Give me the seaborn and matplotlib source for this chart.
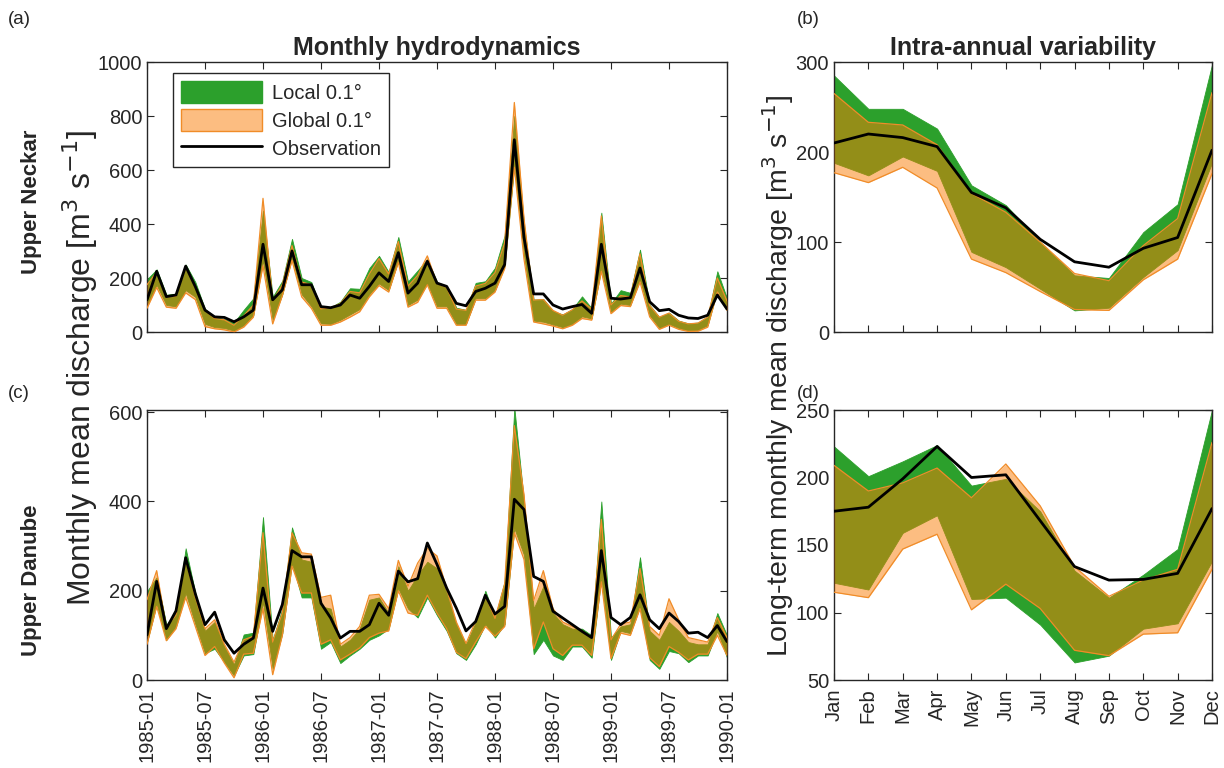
import numpy as np
import pandas as pd
import matplotlib
matplotlib.use("Agg")
import matplotlib.pyplot as plt
from matplotlib.patches import Patch
from matplotlib.lines import Line2D
import seaborn as sns

# ---------------------------------------------------------------- data
# monthly series 1985-01 ... 1990-01 (61 months)
dates = pd.date_range("1985-01-01", "1990-01-01", freq="MS")
date_ticks = ["1985-01", "1985-07", "1986-01", "1986-07", "1987-01", "1987-07",
              "1988-01", "1988-07", "1989-01", "1989-07", "1990-01"]

# Upper Neckar
neckar_obs = [119, 225, 131, 137, 244, 168, 81, 56, 54, 38, 56, 81, 325, 119, 156, 300,
              175, 175, 94, 90, 100, 137, 125, 169, 219, 187, 294, 144, 181, 262, 181,
              169, 106, 97, 150, 162, 181, 250, 712, 350, 141, 141, 100, 85, 94, 102, 69,
              325, 125, 122, 127, 237, 112, 79, 84, 62, 52, 50, 62, 137, 85]
neckar_local_hi = [195, 232, 138, 142, 250, 185, 85, 55, 48, 35, 82, 125, 450, 130, 190, 345,
                   200, 185, 88, 92, 112, 162, 160, 237, 282, 222, 352, 187, 228, 270, 185,
                   170, 90, 82, 182, 188, 238, 358, 800, 395, 120, 122, 78, 65, 85, 132, 88,
                   442, 105, 155, 145, 305, 100, 55, 72, 42, 32, 35, 58, 225, 125]
neckar_local_lo = [100, 175, 100, 95, 155, 130, 30, 18, 15, 5, 25, 62, 265, 45, 140, 275,
                   140, 95, 32, 30, 45, 65, 85, 140, 180, 155, 265, 100, 120, 180, 95,
                   95, 30, 30, 125, 125, 155, 245, 620, 285, 42, 38, 28, 18, 30, 58, 50,
                   235, 75, 105, 100, 195, 62, 15, 30, 15, 6, 8, 25, 155, 85]
neckar_global_hi = [175, 222, 130, 132, 240, 170, 80, 50, 45, 25, 60, 100, 495, 115, 175, 320,
                    185, 175, 85, 90, 105, 150, 145, 215, 272, 215, 335, 170, 210, 282, 180,
                    165, 85, 80, 170, 180, 220, 330, 850, 420, 118, 120, 80, 62, 82, 115, 85,
                    430, 100, 135, 130, 290, 98, 55, 70, 40, 30, 33, 55, 200, 115]
neckar_global_lo = [88, 165, 92, 88, 145, 120, 20, 12, 8, 0, 18, 55, 245, 30, 135, 265,
                    130, 88, 25, 25, 37, 55, 75, 130, 172, 148, 258, 92, 110, 175, 88,
                    88, 25, 25, 118, 118, 148, 235, 610, 270, 37, 30, 22, 12, 25, 50, 44,
                    225, 68, 98, 94, 185, 56, 10, 25, 10, 2, 3, 18, 148, 80]

# Upper Danube
danube_obs = [101, 221, 115, 155, 274, 193, 124, 152, 90, 60, 80, 94, 206, 109, 169, 290,
              276, 276, 172, 139, 94, 109, 109, 124, 172, 145, 244, 220, 227, 307, 259,
              206, 161, 110, 131, 190, 148, 165, 405, 382, 232, 221, 154, 139, 124, 109, 95,
              290, 140, 124, 140, 191, 135, 115, 150, 131, 105, 107, 95, 122, 86]
danube_local_hi = [199, 230, 124, 150, 295, 195, 110, 130, 75, 35, 102, 106, 365, 90, 160, 342,
                   270, 265, 165, 160, 75, 90, 115, 180, 185, 150, 255, 200, 235, 265, 250,
                   195, 125, 80, 130, 200, 140, 222, 610, 400, 160, 210, 150, 125, 115, 115, 100,
                   400, 95, 120, 125, 275, 110, 90, 130, 110, 85, 80, 80, 150, 100]
danube_local_lo = [85, 170, 90, 120, 195, 125, 60, 70, 40, 10, 55, 58, 175, 25, 105, 262,
                   185, 185, 70, 85, 38, 55, 70, 90, 100, 115, 205, 160, 140, 185, 145,
                   110, 60, 45, 80, 125, 95, 125, 340, 280, 58, 90, 55, 45, 75, 75, 50,
                   230, 45, 110, 105, 165, 45, 25, 65, 60, 40, 55, 55, 110, 50]
danube_global_hi = [180, 245, 118, 145, 270, 185, 115, 135, 80, 40, 90, 98, 330, 85, 150, 330,
                    285, 282, 185, 190, 80, 95, 120, 190, 192, 160, 268, 210, 262, 295, 278,
                    205, 130, 82, 132, 190, 138, 215, 570, 415, 178, 245, 160, 130, 120, 110, 95,
                    360, 90, 125, 130, 250, 120, 100, 182, 135, 95, 90, 85, 140, 95]
danube_global_lo = [80, 165, 88, 115, 185, 120, 55, 75, 38, 5, 58, 60, 160, 12, 100, 255,
                    195, 195, 80, 90, 45, 58, 72, 95, 105, 110, 200, 150, 145, 190, 150,
                    115, 62, 48, 85, 120, 98, 120, 330, 270, 70, 130, 70, 55, 78, 78, 55,
                    220, 48, 105, 100, 160, 50, 30, 75, 62, 45, 58, 58, 100, 55]

# long-term monthly means
months = ["Jan", "Feb", "Mar", "Apr", "May", "Jun",
          "Jul", "Aug", "Sep", "Oct", "Nov", "Dec"]
neckar_clim_obs = [210, 220, 216, 206, 155, 138, 103, 78, 72, 93, 105, 202]
neckar_clim_local_hi = [285, 248, 248, 226, 163, 141, 100, 63, 60, 111, 142, 297]
neckar_clim_local_lo = [188, 174, 195, 179, 89, 72, 48, 24, 27, 61, 91, 188]
neckar_clim_global_hi = [265, 233, 230, 208, 154, 133, 100, 65, 57, 96, 126, 266]
neckar_clim_global_lo = [177, 166, 183, 160, 81, 66, 45, 25, 24, 58, 81, 176]

danube_clim_obs = [175, 178, 199, 223, 200, 202, 168, 134, 124, 124.5, 129, 177]
danube_clim_local_hi = [223, 201, 212, 224, 194, 199, 175, 131, 111, 128, 147, 250]
danube_clim_local_lo = [122, 117, 159, 172, 110, 111, 91, 63, 68, 88, 92, 138]
danube_clim_global_hi = [209, 190, 196, 207, 185, 210, 179, 134, 112, 124, 132, 226]
danube_clim_global_lo = [115, 111, 147, 158, 102, 121, 103, 72, 68, 84, 85, 132]

# ---------------------------------------------------------------- style
sns.set_theme(style="ticks")
plt.rcParams["font.family"] = ["Liberation Sans", "DejaVu Sans"]
plt.rcParams["axes.edgecolor"] = "#262626"
plt.rcParams["xtick.color"] = "#262626"
plt.rcParams["ytick.color"] = "#262626"
plt.rcParams["text.color"] = "#262626"

GREEN = "#2ca02c"
ORANGE = (251 / 255, 125 / 255, 5 / 255)
ORANGE_EDGE = (240 / 255, 140 / 255, 40 / 255)
TICK_FS = 14.5

fig = plt.figure(figsize=(12.24, 7.68), dpi=100)
W, H = 1224, 768


def axes_px(left, top, right, bottom):
    return fig.add_axes([left / W, 1 - bottom / H, (right - left) / W, (bottom - top) / H])


ax_a = axes_px(147, 62, 727, 332)
ax_c = axes_px(147, 410, 727, 680)
ax_b = axes_px(834, 62, 1212, 332)
ax_d = axes_px(834, 410, 1212, 680)


def draw_bands(ax, x, obs, l_lo, l_hi, g_lo, g_hi):
    ax.fill_between(x, l_lo, l_hi, facecolor=GREEN, edgecolor=GREEN, linewidth=0.6, zorder=2)
    ax.fill_between(x, g_lo, g_hi, facecolor=ORANGE, alpha=0.5, linewidth=0, zorder=3)
    ax.plot(x, g_lo, color=ORANGE_EDGE, lw=0.9, zorder=3)
    ax.plot(x, g_hi, color=ORANGE_EDGE, lw=0.9, zorder=3)
    df = pd.DataFrame({"x": x, "obs": obs})
    sns.lineplot(data=df, x="x", y="obs", color="black", linewidth=2.0, ax=ax, zorder=4)


def style_axes(ax):
    ax.tick_params(direction="in", length=5, width=0.8, top=True, right=True,
                   labelsize=TICK_FS)
    ax.tick_params(axis="x", pad=6)
    for s in ax.spines.values():
        s.set_visible(True)
        s.set_linewidth(1.0)
    ax.set_xlabel("")
    ax.set_ylabel("")


xt = np.arange(len(dates))
draw_bands(ax_a, xt, neckar_obs, neckar_local_lo, neckar_local_hi,
           neckar_global_lo, neckar_global_hi)
draw_bands(ax_c, xt, danube_obs, danube_local_lo, danube_local_hi,
           danube_global_lo, danube_global_hi)

xm = np.arange(1, 13)
draw_bands(ax_b, xm, neckar_clim_obs, neckar_clim_local_lo, neckar_clim_local_hi,
           neckar_clim_global_lo, neckar_clim_global_hi)
draw_bands(ax_d, xm, danube_clim_obs, danube_clim_local_lo, danube_clim_local_hi,
           danube_clim_global_lo, danube_clim_global_hi)

for ax in (ax_a, ax_b, ax_c, ax_d):
    style_axes(ax)

tick_pos = np.arange(0, len(dates), 6)
for ax in (ax_a, ax_c):
    ax.set_xlim(0, len(dates) - 1)
    ax.set_xticks(tick_pos)
ax_a.set_xticklabels([])
ax_c.set_xticklabels(date_ticks, rotation=90)
ax_a.set_ylim(0, 1000)
ax_a.set_yticks(np.arange(0, 1001, 200))
ax_c.set_ylim(0, 605)
ax_c.set_yticks([0, 200, 400, 600])

for ax in (ax_b, ax_d):
    ax.set_xlim(1, 12)
    ax.set_xticks(xm)
ax_b.set_xticklabels([])
ax_d.set_xticklabels(months, rotation=90)
ax_b.set_ylim(0, 300)
ax_b.set_yticks([0, 100, 200, 300])
ax_d.set_ylim(50, 250)
ax_d.set_yticks([50, 100, 150, 200, 250])

# titles
ax_a.set_title("Monthly hydrodynamics", fontsize=18, fontweight="bold", pad=5)
ax_b.set_title("Intra-annual variability", fontsize=18, fontweight="bold", pad=5)

# panel letters and row labels
for txt, x, y in [("(a)", 8, 19), ("(b)", 797, 19), ("(c)", 8, 393), ("(d)", 797, 393)]:
    fig.text(x / W, 1 - y / H, txt, fontsize=13.5, ha="left", va="center")
fig.text(32 / W, 1 - 202 / H, "Upper Neckar", fontsize=16, fontweight="bold",
         rotation=90, ha="center", va="center")
fig.text(32 / W, 1 - 580 / H, "Upper Danube", fontsize=16, fontweight="bold",
         rotation=90, ha="center", va="center")

# shared y labels
fig.text(80 / W, 1 - 368 / H, "Monthly mean discharge [m$^{3}$ s$^{-1}$]",
         fontsize=23, rotation=90, ha="center", va="center")
fig.text(778 / W, 1 - 376 / H, "Long-term monthly mean discharge [m$^{3}$ s$^{-1}$]",
         fontsize=20.5, rotation=90, ha="center", va="center")

# legend
handles = [
    Patch(facecolor=GREEN, edgecolor=GREEN, label="Local 0.1°"),
    Patch(facecolor=(*ORANGE, 0.5), edgecolor=ORANGE_EDGE, label="Global 0.1°"),
    Line2D([0], [0], color="black", lw=2.0, label="Observation"),
]
leg = ax_a.legend(handles=handles, loc="upper left", bbox_to_anchor=(0.045, 0.96),
                  fontsize=TICK_FS, frameon=True, fancybox=False, framealpha=1,
                  edgecolor="#262626", handlelength=4.0, handleheight=1.3,
                  handletextpad=0.5, borderpad=0.4, labelspacing=0.3, borderaxespad=0)
leg.get_frame().set_linewidth(1.0)
leg.set_zorder(10)

fig.savefig("out.png", dpi=100)
